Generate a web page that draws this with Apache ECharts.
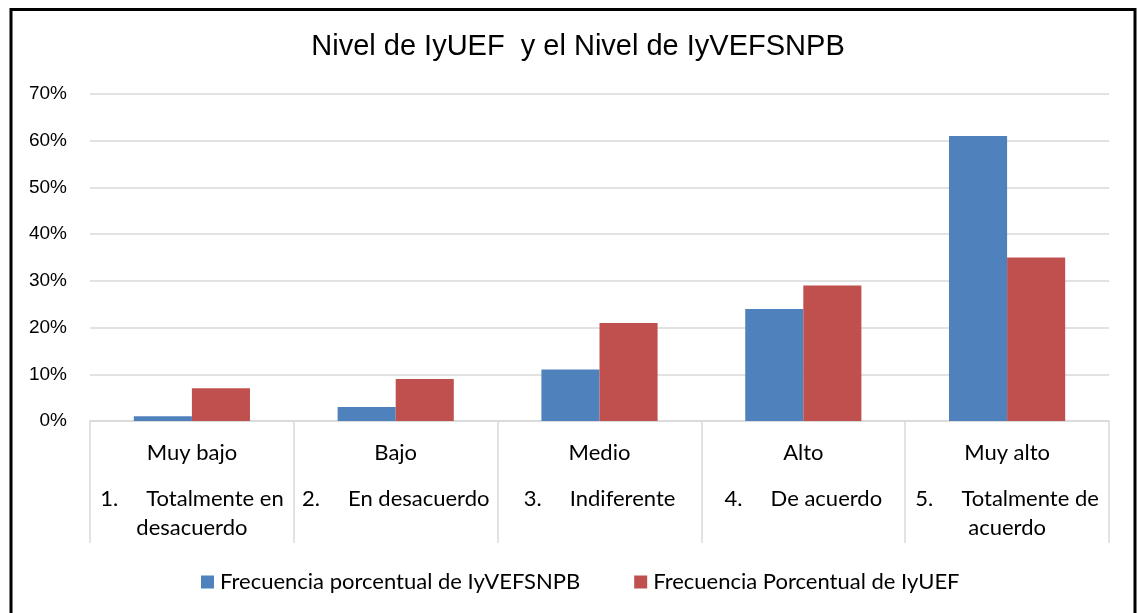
<!DOCTYPE html>
<html>
<head>
<meta charset="utf-8">
<script src="https://cdn.jsdelivr.net/npm/echarts@6/dist/echarts.min.js"></script>
<style>
  html, body { margin: 0; padding: 0; background: #fff; }
  #chart { width: 1137px; height: 613px; }
</style>
</head>
<body>
<div id="chart"></div>
<script>
// niveles (categorias) y su descripcion
var niveles = ["Muy bajo", "Bajo", "Medio", "Alto", "Muy alto"];
var descripcion = [
  "1.     Totalmente en\ndesacuerdo",
  "2.     En desacuerdo",
  "3.     Indiferente",
  "4.     De acuerdo",
  "5.     Totalmente de\nacuerdo"
];
// frecuencias en %
var frecIyVEFSNPB = [1, 3, 11, 24, 61];
var frecIyUEF = [7, 9, 21, 29, 35];
var ticksY = [0, 10, 20, 30, 40, 50, 60, 70];

var gris = "#d9d9d9";
var fuente = "Lato";

var chartObj = echarts.init(document.getElementById("chart"));

var option = {
  backgroundColor: "#fff",
  animation: false,
  title: {
    text: "Nivel de IyUEF  y el Nivel de IyVEFSNPB",
    left: 573,
    textAlign: "center",
    top: 27,
    textStyle: {
      fontFamily: "Liberation Sans",
      fontSize: 29,
      fontWeight: "normal",
      color: "#000"
    }
  },
  legend: {
    left: 201,
    top: 571,
    padding: 0,
    itemWidth: 13,
    itemHeight: 13,
    itemGap: 54,
    icon: "rect",
    textStyle: {
      fontFamily: fuente,
      fontSize: 22,
      color: "#000",
      padding: [0, 0, 0, 1]
    },
    data: ["Frecuencia porcentual de IyVEFSNPB", "Frecuencia Porcentual de IyUEF"]
  },
  grid: {
    left: 90,
    right: 28,
    top: 94,
    bottom: 192,
    containLabel: false
  },
  xAxis: {
    type: "category",
    data: niveles,
    axisLine: { lineStyle: { color: gris, width: 1.5 } },
    axisTick: {
      show: true,
      interval: 0,
      length: 122,
      lineStyle: { color: gris, width: 1.5 }
    },
    axisLabel: {
      interval: 0,
      margin: 0,
      formatter: function (v, i) {
        var d = descripcion[i].split("\n");
        var s = "{a|" + v + "}";
        d.forEach(function (t) { s += "\n{b|" + t + "}"; });
        return s;
      },
      rich: {
        a: { fontFamily: fuente, fontSize: 22, lineHeight: 63, color: "#000" },
        b: { fontFamily: fuente, fontSize: 22, lineHeight: 29, color: "#000" }
      }
    }
  },
  yAxis: {
    type: "value",
    min: 0,
    max: 70,
    interval: 10,
    axisLine: { show: false },
    axisTick: { show: false },
    splitLine: { lineStyle: { color: gris, width: 1.5 } },
    axisLabel: {
      margin: 23,
      formatter: function (v) { return ticksY.indexOf(v) >= 0 ? v + "%" : ""; },
      fontFamily: "Liberation Sans",
      fontSize: 19,
      color: "#000"
    }
  },
  series: [
    {
      name: "Frecuencia porcentual de IyVEFSNPB",
      type: "bar",
      data: frecIyVEFSNPB,
      barGap: "0%",
      barCategoryGap: "43%",
      itemStyle: { color: "#4f81bd" }
    },
    {
      name: "Frecuencia Porcentual de IyUEF",
      type: "bar",
      data: frecIyUEF,
      itemStyle: { color: "#c0504d" }
    }
  ],
  graphic: [
    {
      type: "rect",
      silent: true,
      z: 100,
      shape: { x: 11, y: 9.5, width: 1124, height: 700 },
      style: { fill: "none", stroke: "#000", lineWidth: 3 }
    }
  ]
};

chartObj.setOption(option, true);
window.addEventListener("resize", function () { chartObj.resize(); });
</script>
</body>
</html>
